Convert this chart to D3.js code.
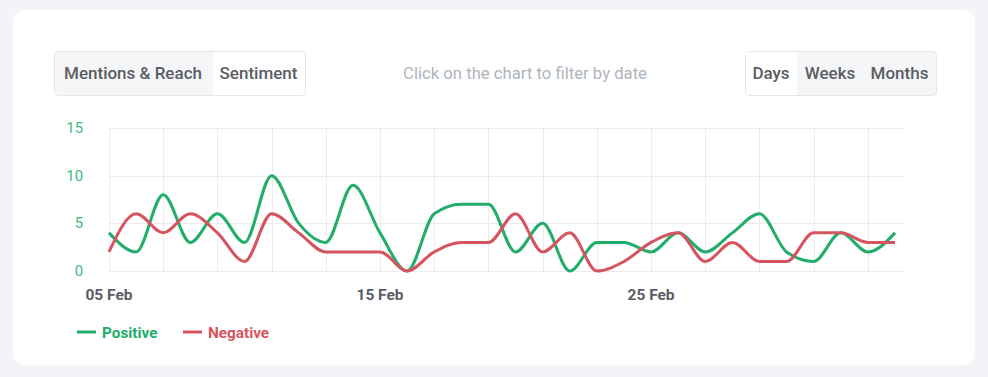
<!doctype html>
<html lang="en">
<head>
<meta charset="utf-8">
<title>Sentiment chart</title>
<script src="https://cdn.jsdelivr.net/npm/d3@7/dist/d3.min.js"></script>
<style>
  body { margin: 0; background: #f3f4f7; font-family: Roboto, "Open Sans", sans-serif; }
  svg { display: block; }
</style>
</head>
<body>
<script>
// data: daily sentiment counts, 05 Feb .. 06 Mar
var startDate = new Date(2024, 1, 5);
var positive = [4, 2, 8, 3, 6, 3, 10, 5, 3, 9, 4, 0, 6, 7, 7, 2, 5, 0, 3, 3, 2, 4, 2, 4, 6, 2, 1, 4, 2, 4];
var negative = [2, 6, 4, 6, 4, 1, 6, 4, 2, 2, 2, 0, 2, 3, 3, 6, 2, 4, 0, 1, 3, 4, 1, 3, 1, 1, 4, 4, 3, 3];
var yTicks = [0, 5, 10, 15];
var xLabelDays = [0, 10, 20];
var seriesNames = ['Positive', 'Negative'];
var seriesColors = ['#22ad6a', '#d6545f'];

var width = 988, height = 377;
var dates = positive.map((d, i) => d3.timeDay.offset(startDate, i));

var svg = d3.select('body').append('svg')
  .attr('width', width)
  .attr('height', height);

// card
svg.append('rect')
  .attr('x', 13).attr('y', 10)
  .attr('width', 962).attr('height', 355)
  .attr('rx', 12)
  .attr('fill', '#fff');

// button groups
function buttonGroup(x0, labels, widths, active) {
  var total = d3.sum(widths);
  var g = svg.append('g');
  g.append('rect')
    .attr('x', x0 + 0.5).attr('y', 51.5)
    .attr('width', total).attr('height', 44)
    .attr('rx', 4)
    .attr('fill', '#f5f6f8')
    .attr('stroke', '#e4e6ea');
  var x = x0;
  labels.forEach((lab, i) => {
    if (i === active) {
      g.append('rect')
        .attr('x', x + 1).attr('y', 52)
        .attr('width', widths[i] - 1).attr('height', 43)
        .attr('rx', 3)
        .attr('fill', '#fff');
    }
    g.append('text')
      .attr('x', x + widths[i] / 2).attr('y', 79)
      .attr('text-anchor', 'middle')
      .attr('font-size', 17)
      .attr('font-weight', 500)
      .attr('fill', '#5a5d63')
      .text(lab);
    x += widths[i];
  });
}
buttonGroup(54, ['Mentions & Reach', 'Sentiment'], [158, 93], 1);
buttonGroup(745, ['Days', 'Weeks', 'Months'], [52, 66, 73], 0);

svg.append('text')
  .attr('x', 525).attr('y', 79)
  .attr('text-anchor', 'middle')
  .attr('font-size', 16.7)
  .attr('fill', '#aeb4bd')
  .text('Click on the chart to filter by date');

// scales
var x = d3.scaleTime()
  .domain([dates[0], dates[dates.length - 1]])
  .range([109, 895]);
var y = d3.scaleLinear().domain([0, 15]).range([271, 128]);
var plotRight = 903;

// gridlines
var grid = svg.append('g').attr('stroke', '#ececef').attr('stroke-width', 1);
grid.selectAll('.h').data(yTicks).enter().append('line')
  .attr('x1', 109).attr('x2', plotRight)
  .attr('y1', d => Math.round(y(d)) + 0.5)
  .attr('y2', d => Math.round(y(d)) + 0.5);
grid.selectAll('.v').data(dates.filter((d, i) => i % 2 === 0)).enter().append('line')
  .attr('x1', d => Math.round(x(d)) + 0.5)
  .attr('x2', d => Math.round(x(d)) + 0.5)
  .attr('y1', y(15)).attr('y2', y(0));

// y axis labels
svg.selectAll('.ylab').data(yTicks).enter().append('text')
  .attr('x', 83).attr('y', d => y(d) + 5)
  .attr('text-anchor', 'end')
  .attr('font-size', 14.8)
  .attr('fill', '#3dba82')
  .text(d => d);

// x axis labels
var fmt = d3.timeFormat('%d %b');
svg.selectAll('.xlab').data(xLabelDays.map(i => dates[i])).enter().append('text')
  .attr('x', d => x(d)).attr('y', 300)
  .attr('text-anchor', 'middle')
  .attr('font-size', 15.5)
  .attr('font-weight', 700)
  .attr('fill', '#5a5d63')
  .text(d => fmt(d));

// lines
var line = d3.line()
  .x((d, i) => x(dates[i]))
  .y(d => y(d))
  .curve(d3.curveMonotoneX);

[positive, negative].forEach((s, k) => {
  svg.append('path')
    .datum(s)
    .attr('fill', 'none')
    .attr('stroke', seriesColors[k])
    .attr('stroke-width', 3)
    .attr('stroke-linejoin', 'round')
    .attr('d', line);
});

// legend
var legendX = [77, 183];
seriesNames.forEach((name, k) => {
  svg.append('line')
    .attr('x1', legendX[k]).attr('x2', legendX[k] + 19)
    .attr('y1', 332).attr('y2', 332)
    .attr('stroke', seriesColors[k])
    .attr('stroke-width', 3);
  svg.append('text')
    .attr('x', legendX[k] + 25).attr('y', 337.5)
    .attr('font-size', 15.3)
    .attr('font-weight', 700)
    .attr('fill', seriesColors[k])
    .text(name);
});
</script>
</body>
</html>
